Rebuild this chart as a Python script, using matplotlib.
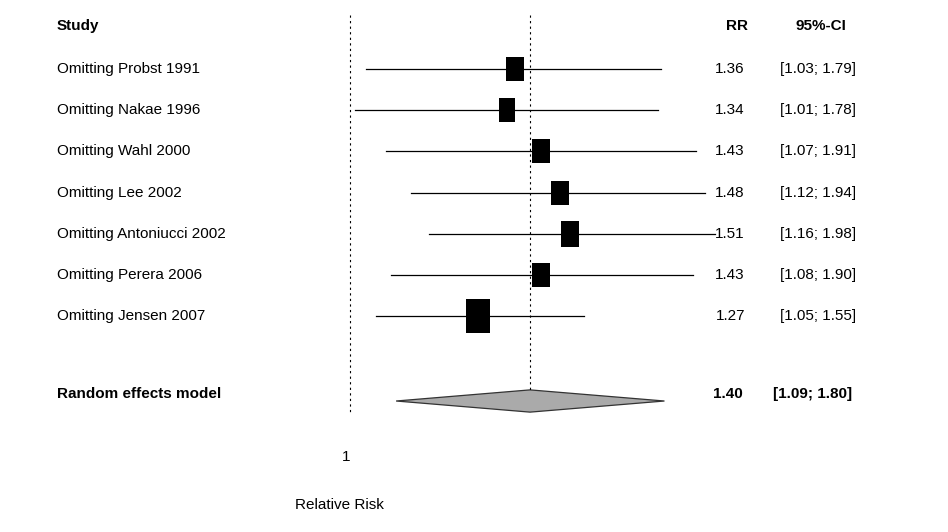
import numpy as np
import matplotlib.pyplot as plt
from matplotlib.path import Path

plt.rcParams['font.family'] = ['Liberation Sans', 'DejaVu Sans']

# Data
studies = ['Omitting Probst 1991', 'Omitting Nakae 1996', 'Omitting Wahl 2000',
           'Omitting Lee 2002', 'Omitting Antoniucci 2002', 'Omitting Perera 2006',
           'Omitting Jensen 2007']
rr = [1.36, 1.34, 1.43, 1.48, 1.51, 1.43, 1.27]
ci_low = [1.03, 1.01, 1.07, 1.12, 1.16, 1.08, 1.05]
ci_high = [1.79, 1.78, 1.91, 1.94, 1.98, 1.90, 1.55]
weights = [14.5, 13.0, 14.5, 14.5, 16.0, 14.5, 28.0]
pooled = 1.40
pooled_low = 1.09
pooled_high = 1.80

fig = plt.figure(figsize=(9.48, 5.32), dpi=100)
ax = fig.add_axes([0, 0, 1, 1])
ax.set_xscale('log')
# 535 px per ln unit, RR=1 at x=350 px
ax.set_xlim(np.exp(-350 / 535), np.exp(598 / 535))
ax.set_ylim(11.24, -1.675)
ax.axis('off')


def px(x):
    # pixel column -> data x (log scale)
    return np.exp((x - 350) / 535)


# rectangle marker, taller than wide
box = Path([(-0.36, -0.5), (0.36, -0.5), (0.36, 0.5), (-0.36, 0.5), (-0.36, -0.5)],
           [Path.MOVETO, Path.LINETO, Path.LINETO, Path.LINETO, Path.CLOSEPOLY])

y_pool = 8.06
half_h = 0.27
ax.plot([1, 1], [-1.3, y_pool + half_h], color='black', linestyle=(0, (2, 3)), linewidth=0.8)
ax.plot([pooled, pooled], [-1.3, y_pool - half_h], color='black', linestyle=(0, (2, 3)), linewidth=0.8)

for i in range(len(studies)):
    ax.plot([ci_low[i], ci_high[i]], [i, i], color='black', linewidth=0.9)
    h_px = 4.72 * np.sqrt(weights[i]) * 1.38
    ax.plot(rr[i], i, marker=box, markersize=h_px * 0.72, color='black', mew=0)

fs = 11
ax.text(px(57), -1.05, 'Study', fontsize=fs, fontweight='bold', va='center', ha='left')
ax.text(px(748), -1.05, 'RR', fontsize=fs, fontweight='bold', va='center', ha='right')
ax.text(px(821), -1.05, '95%-CI', fontsize=fs, fontweight='bold', va='center', ha='center')

for i in range(len(studies)):
    ax.text(px(57), i, studies[i], fontsize=fs, va='center', ha='left')
    ax.text(px(745), i, f'{rr[i]:.2f}', fontsize=fs, va='center', ha='right')
    ax.text(px(780), i, f'[{ci_low[i]:.2f}; {ci_high[i]:.2f}]', fontsize=fs, va='center', ha='left')

# pooled diamond
ax.fill([pooled_low, pooled, pooled_high, pooled],
        [y_pool, y_pool - half_h, y_pool, y_pool + half_h],
        facecolor='#aaaaaa', edgecolor='#333333', linewidth=0.9)
ax.text(px(57), 7.89, 'Random effects model', fontsize=fs, fontweight='bold', va='center', ha='left')
ax.text(px(743), 7.89, f'{pooled:.2f}', fontsize=fs, fontweight='bold', va='center', ha='right')
ax.text(px(773), 7.89, f'[{pooled_low:.2f}; {pooled_high:.2f}]', fontsize=fs, fontweight='bold',
        va='center', ha='left')

ax.text(px(346), 9.42, '1', fontsize=fs, va='center', ha='center')
ax.text(px(339), 10.58, 'Relative Risk', fontsize=fs, va='center', ha='center')

plt.savefig('out.png', dpi=100)
